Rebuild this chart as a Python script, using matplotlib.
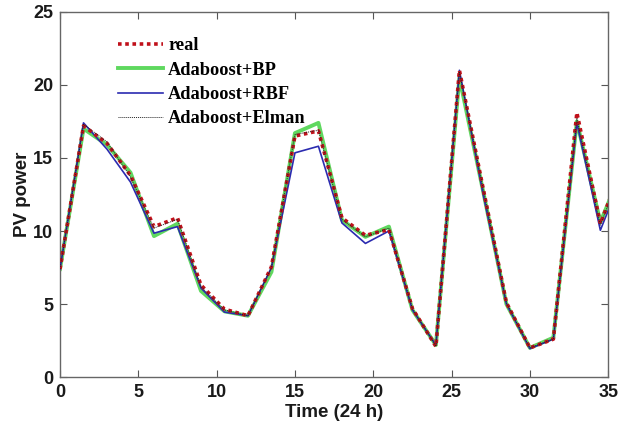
import matplotlib
matplotlib.use("Agg")
import matplotlib.pyplot as plt
from matplotlib import font_manager

time = [0, 1.5, 3, 4.5, 6, 7.5, 9, 10.5, 12, 13.5, 15, 16.5, 18, 19.5, 21, 22.5,
        24, 25.5, 27, 28.5, 30, 31.5, 33, 34.5, 36]
real = [7.4, 17.2, 16.0, 13.8, 10.3, 10.9, 6.3, 4.65, 4.2, 7.55, 16.5, 16.85, 10.9,
        9.7, 10.1, 4.7, 2.1, 21.0, 13.0, 5.1, 2.0, 2.6, 18.1, 10.5, 14.7]
bp = [7.4, 17.0, 15.9, 14.0, 9.65, 10.5, 5.9, 4.5, 4.2, 7.2, 16.7, 17.4, 10.75,
      9.6, 10.3, 4.6, 2.2, 20.5, 12.8, 5.0, 2.0, 2.7, 17.5, 10.6, 14.5]
rbf = [7.4, 17.4, 15.6, 13.35, 9.85, 10.3, 6.1, 4.45, 4.2, 7.5, 15.35, 15.8, 10.55,
       9.15, 10.0, 4.6, 2.2, 21.0, 12.6, 5.0, 1.95, 2.6, 17.4, 10.05, 14.1]
elman = [7.4, 17.3, 16.1, 13.7, 10.2, 10.8, 6.2, 4.6, 4.2, 7.5, 16.6, 16.9, 10.8,
         9.6, 10.2, 4.7, 2.1, 20.9, 13.0, 5.1, 2.0, 2.6, 17.7, 10.4, 14.6]

xticks = [0, 5, 10, 15, 20, 25, 30, 35]
yticks = [0, 5, 10, 15, 20, 25]

names = {f.name for f in font_manager.fontManager.ttflist}
sans = 'Liberation Sans Narrow' if 'Liberation Sans Narrow' in names else 'Liberation Sans'

fig = plt.figure(figsize=(6.27, 4.38), dpi=100)
ax = fig.add_axes([0.0957, 0.139, 0.8743, 0.834])

ax.plot(time, bp, color='#5fd85f', lw=2.8, label='Adaboost+BP', zorder=2)
ax.plot(time, rbf, color='#2b2bb0', lw=1.2, label='Adaboost+RBF', zorder=3)
ax.plot(time, real, color='#c0101a', lw=2.6, ls=(0, (1, 1)), label='real', zorder=4)
ax.plot(time, elman, color='#222222', lw=0.7, ls=(0, (1, 1)), label='Adaboost+Elman', zorder=5)

ax.set_xlim(0, 35)
ax.set_ylim(0, 25)
ax.set_xticks(xticks)
ax.set_yticks(yticks)
ax.tick_params(direction='in', top=True, right=True, length=5, width=0.8,
               color='#555555', labelsize=13, labelcolor='#1a1a1a', pad=5)
for lab in ax.get_xticklabels() + ax.get_yticklabels():
    lab.set_fontfamily(sans)
    lab.set_fontweight('bold')
for s in ax.spines.values():
    s.set_color('#666666')
    s.set_linewidth(1.0)

ax.set_xlabel('Time (24 h)', fontsize=13.5, fontweight='bold', family=sans, color='#1a1a1a', labelpad=2)
ax.set_ylabel('PV power', fontsize=13.5, fontweight='bold', family=sans, color='#1a1a1a', labelpad=1.5)

handles, labels = ax.get_legend_handles_labels()
order = [2, 0, 1, 3]
leg = ax.legend([handles[i] for i in order], [labels[i] for i in order],
                loc='upper left', bbox_to_anchor=(0.075, 0.975), frameon=False,
                prop={'family': 'Liberation Serif', 'weight': 'bold', 'size': 13.2},
                handlelength=2.5, handletextpad=0.25, labelspacing=0.4)

fig.savefig('out.png', dpi=100)
